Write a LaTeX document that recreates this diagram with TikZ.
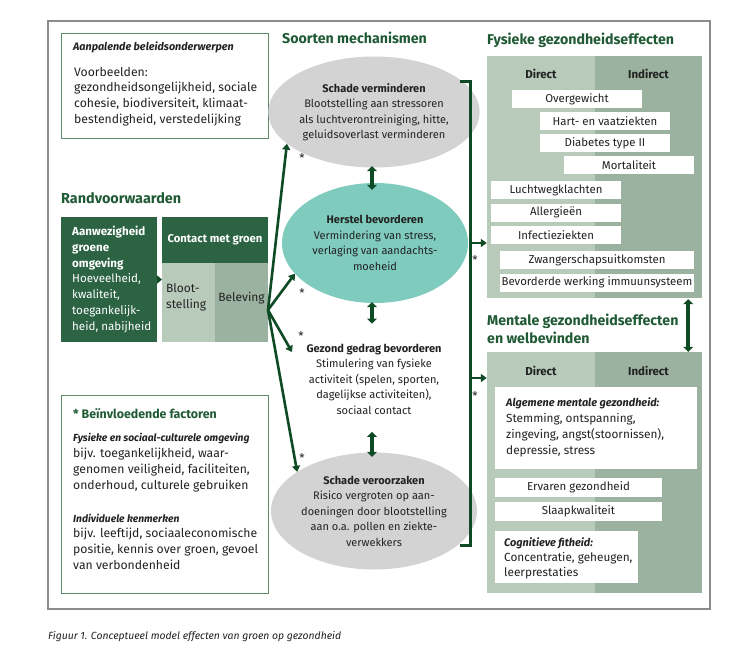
\documentclass[tikz,border=0pt]{standalone}
\usepackage{fontspec}
\setmainfont{Fira Sans}
\usetikzlibrary{arrows.meta,shapes.geometric}
\definecolor{dkgreen}{HTML}{2C6343}
\definecolor{hgreen}{HTML}{1F5A34}
\definecolor{lgreen}{HTML}{0E4A24}
\definecolor{plight}{HTML}{B8CBBB}
\definecolor{pdark}{HTML}{9CB2A0}
\definecolor{tealc}{HTML}{7FCBBE}
\definecolor{egray}{HTML}{D3D3D3}
\definecolor{framec}{HTML}{8C8C8C}
\definecolor{bordr}{HTML}{5E8C6B}
\definecolor{txt}{HTML}{222222}
\begin{document}
\begin{tikzpicture}[x=1pt,y=-1pt,
  bodyf/.style={font=\fontsize{11}{15.5}\selectfont, text=txt},
  bigf/.style={font=\fontsize{12.2}{15.6}\selectfont, text=txt},
  head/.style={font=\fontsize{14.2}{17.5}\selectfont\bfseries, text=hgreen, anchor=west, inner sep=0, align=left},
  wbox/.style={fill=white, inner sep=0, minimum height=18, font=\fontsize{11.4}{14}\selectfont, text=txt},
  lbl/.style={font=\fontsize{11.5}{14}\selectfont\bfseries, text=txt, inner sep=0},
  ell/.style={ellipse, inner sep=0, align=center, bodyf},
  arr/.style={draw=lgreen, line width=2.6, -{Triangle[width=8,length=6]}},
  dbl/.style={draw=lgreen, line width=4, {Triangle[width=10,length=5]}-{Triangle[width=10,length=5]}},
  star/.style={font=\fontsize{12}{12}\selectfont, text=txt, inner sep=0}
]
\useasboundingbox (0,0) rectangle (750,670);
\fill[white] (0,0) rectangle (750,670);
\draw[framec, line width=1.2] (48,21) rectangle (710,609);

% Aanpalende beleidsonderwerpen
\node[draw=bordr, line width=1, minimum width=207, minimum height=105, inner sep=0] (apb) at (164.5,85.5) {};
\node[anchor=west, inner sep=0, font=\fontsize{10.8}{14}\selectfont\bfseries\itshape, text=txt] (apbt) at (73,47) {Aanpalende beleidsonderwerpen};
\node[anchor=west, inner sep=0, bigf, align=left] (apbb) at (74,96.5) {Voorbeelden:\\gezondheidsongelijkheid, sociale\\cohesie, biodiversiteit, klimaat-\\bestendigheid, verstedelijking};

% Randvoorwaarden
\node[head, font=\fontsize{14.4}{17.5}\selectfont\bfseries] (rv) at (61,198) {Randvoorwaarden};
\node[fill=dkgreen, minimum width=96, minimum height=125, inner sep=0] (aanw) at (109,279.5) {};
\node[anchor=west, inner sep=0, align=left, font=\fontsize{11.6}{15.7}\selectfont, text=white] (aanwt) at (72,279.5)
  {\textbf{Aanwezigheid}\\\textbf{groene}\\\textbf{omgeving}\\Hoeveelheid,\\kwaliteit,\\toegankelijk-\\heid, nabijheid};
\node[fill=dkgreen, minimum width=106, minimum height=46, inner sep=0, text=white, font=\fontsize{11.3}{14}\selectfont\bfseries] (ch) at (215,240) {Contact met groen};
\node[fill=plight, minimum width=53, minimum height=79, anchor=north west, inner sep=0] (cl) at (162,263) {};
\node[fill=pdark, minimum width=53, minimum height=79, anchor=north west, inner sep=0] (cr) at (215,263) {};
\node[anchor=west, inner sep=0, align=left, font=\fontsize{12}{15.5}\selectfont, text=txt] (clt) at (166,297.5) {Bloot-\\stelling};
\node[inner sep=0, font=\fontsize{12}{15.5}\selectfont, text=txt] (crt) at (241.5,298) {Beleving};
\draw[draw=lgreen, line width=3, -{Triangle[width=8,length=5]}] (aanw.east) -- (cl.west |- aanw.east);

% Beinvloedende factoren
\node[draw=bordr, line width=1, minimum width=207, minimum height=198, inner sep=0] (bf) at (164.5,494) {};
\node[anchor=west, inner sep=0, font=\fontsize{12.4}{15}\selectfont\bfseries, text=hgreen] (bft) at (73,414) {* Beïnvloedende factoren};
\node[anchor=west, inner sep=0, align=left, font=\fontsize{12.2}{16}\selectfont, text=txt] (bf1) at (73,463) {{\fontsize{10.3}{16}\selectfont\textbf{\textit{Fysieke en sociaal-culturele omgeving}}}\\bijv. toegankelijkheid, waar-\\genomen veiligheid, faciliteiten,\\onderhoud, culturele gebruiken};
\node[anchor=west, inner sep=0, align=left, font=\fontsize{12.2}{15.7}\selectfont, text=txt] (bf2) at (73,541.5) {{\fontsize{10.3}{15.7}\selectfont\textbf{\textit{Individuele kenmerken}}}\\bijv. leeftijd, sociaaleconomische\\positie, kennis over groen, gevoel\\van verbondenheid};

% Soorten mechanismen
\node[head] (sm) at (282,38) {Soorten mechanismen};
\node[ell, fill=egray, minimum width=186, minimum height=111] (sv) at (374,112)
  {\textbf{Schade verminderen}\\Blootstelling aan stressoren\\als luchtverontreiniging, hitte,\\geluidsoverlast verminderen};
\node[ell, fill=tealc, minimum width=186, minimum height=120] (hb) at (375,243)
  {\textbf{Herstel bevorderen}\\Vermindering van stress,\\verlaging van aandachts-\\moeheid};
\node[inner sep=0, align=center, bodyf] (gg) at (374,379)
  {\textbf{Gezond gedrag bevorderen}\\Stimulering van fysieke\\activiteit (spelen, sporten,\\dagelijkse activiteiten),\\sociaal contact};
\node[ell, fill=egray, minimum width=185, minimum height=117] (sz) at (374,511)
  {\textbf{Schade veroorzaken}\\Risico vergroten op aan-\\doeningen door blootstelling\\aan o.a. pollen en ziekte-\\verwekkers};

\draw[dbl] ([xshift=-2,yshift=1.5]sv.south) -- ([xshift=-3,yshift=-7]hb.north);
\draw[dbl] ([xshift=-3,yshift=1]hb.south) -- ([xshift=-2,yshift=20]gg.north);
\draw[dbl] ([xshift=-2,yshift=-17.5]gg.south) -- ([xshift=-2,yshift=-4.5]sz.north);

% fan
\coordinate (fan) at (268,310);
\coordinate (ggin) at (292,352);
\draw[arr] (fan) -- (sv.200);
\draw[arr] (fan) -- (hb.201);
\draw[arr] (fan) -- (ggin);
\draw[arr] (fan) -- (sz.153);
\node[star] (s1) at (302,158) {*};
\node[star] (s2) at (302,293) {*};
\node[star] (s3) at (301,336) {*};
\node[star] (s4) at (302,458) {*};

% bracket
\coordinate (bt) at (460,81);
\coordinate (bb) at (460,545);
\draw[lgreen, line width=3] (bt) -- ++(10,0) |- (bb);
\coordinate (b1) at (470,243);
\coordinate (b2) at (470,378);

% Fysieke
\node[head] (fh) at (487,40) {Fysieke gezondheidseffecten};
\node[fill=plight, minimum width=215, minimum height=242, inner sep=0] (fys) at (594.5,177) {};
\fill[pdark] (fys.north) rectangle (fys.south east);
\node[lbl] (fd) at (541,74) {Direct};
\node[lbl] (fi) at (648.5,74) {Indirect};
\node[wbox, minimum width=130] (ov) at (577,99) {Overgewicht};
\node[wbox, minimum width=130] (hv) at (605,121) {Hart- en vaatziekten};
\node[wbox, minimum width=130] (db) at (605,143) {Diabetes type II};
\node[wbox, minimum width=130] (mo) at (629,165) {Mortaliteit};
\node[wbox, minimum width=130] (lw) at (556,190) {Luchtwegklachten};
\node[wbox, minimum width=130] (al) at (556,212.5) {Allergieën};
\node[wbox, minimum width=130] (inf) at (556,235) {Infectieziekten};
\node[wbox, minimum width=194] (zw) at (597,260) {Zwangerschapsuitkomsten};
\node[wbox, minimum width=194] (bw) at (597,282.5) {Bevorderde werking immuunsysteem};

% Mentale
\node[head] (mh) at (487,329) {Mentale gezondheidseffecten\\en welbevinden};
\node[fill=plight, minimum width=215, minimum height=241, inner sep=0] (men) at (594.5,472.5) {};
\fill[pdark] (men.north) rectangle (men.south east);
\node[lbl] (md) at (541,371) {Direct};
\node[lbl] (mi) at (648.5,371) {Indirect};
\node[fill=white, minimum width=202, minimum height=82, inner sep=0] (amg) at (596,428) {};
\node[anchor=west, inner sep=0, align=left, font=\fontsize{11.8}{16}\selectfont, text=txt] (amgt) at (506,427)
  {{\fontsize{10.9}{16}\selectfont\textbf{\textit{Algemene mentale gezondheid:}}}\\Stemming, ontspanning,\\zingeving, angst(stoornissen),\\depressie, stress};
\node[wbox, minimum width=167, minimum height=19, font=\fontsize{11.5}{14}\selectfont] (eg) at (578.5,487.5) {Ervaren gezondheid};
\node[wbox, minimum width=167, minimum height=19, font=\fontsize{11.5}{14}\selectfont] (sk) at (578.5,511.5) {Slaapkwaliteit};
\node[fill=white, minimum width=143, minimum height=52, inner sep=0] (cf) at (566.5,557) {};
\node[anchor=west, inner sep=0, align=left, font=\fontsize{11.8}{15}\selectfont, text=txt] (cft) at (504,558)
  {{\fontsize{10.9}{15}\selectfont\textbf{\textit{Cognitieve fitheid:}}}\\Concentratie, geheugen,\\leerprestaties};

\draw[arr] (b1) -- (b1 -| fys.west);
\draw[arr] (b2) -- (b2 -| men.west);
\node[star] (s5) at (475,260) {*};
\node[star] (s6) at (475,396) {*};
\draw[dbl] ([xshift=-14,yshift=-1]fys.south east) -- ([xshift=-14,yshift=0]men.north east);

% caption
\node[anchor=west, inner sep=0, font=\fontsize{10.4}{12}\selectfont\itshape, text=txt] (cap) at (48,637) {Figuur 1. Conceptueel model effecten van groen op gezondheid};
\end{tikzpicture}
\end{document}
